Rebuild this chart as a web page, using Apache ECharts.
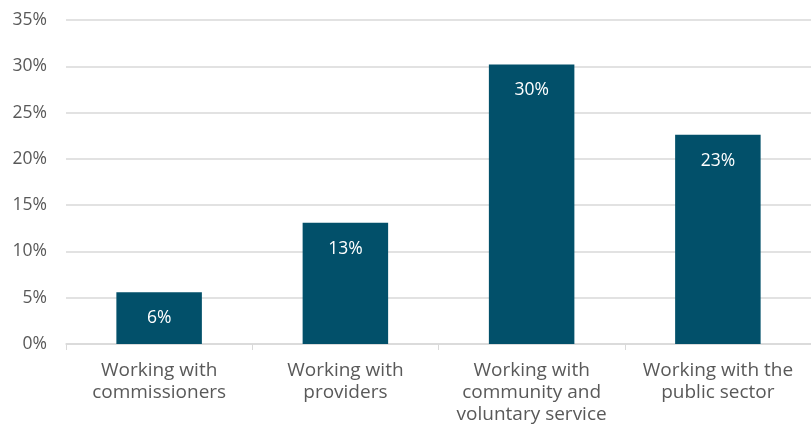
<!DOCTYPE html>
<html>
<head>
<meta charset="utf-8">
<title>Working relationships</title>
<script src="https://cdn.jsdelivr.net/npm/echarts@6/dist/echarts.min.js"></script>
<style>
  html, body { margin: 0; padding: 0; background: #ffffff; }
  #chart { width: 811px; height: 428px; }
</style>
</head>
<body>
<div id="chart"></div>
<script>
// Share of respondents (%) by type of working relationship
const categories = [
  'Working with\ncommissioners',
  'Working with\nproviders',
  'Working with\ncommunity and\nvoluntary service',
  'Working with the\npublic sector'
];
const shares = [5.6, 13.1, 30.2, 22.6];
const yTicks = { min: 0, max: 35, interval: 5 };

const FONT = '"Open Sans", "Noto Sans", sans-serif';
const chart = echarts.init(document.getElementById('chart'), null, { renderer: 'canvas' });

chart.setOption({
  animation: false,
  grid: { left: 66, right: 0, top: 20, bottom: 84 },
  xAxis: {
    type: 'category',
    data: categories,
    axisLine: { lineStyle: { color: '#d9d9d9', width: 1.5 } },
    axisTick: { show: true, length: 6, lineStyle: { color: '#d9d9d9' } },
    axisLabel: {
      color: '#595959',
      fontFamily: FONT,
      fontSize: 19,
      lineHeight: 22,
      margin: 16,
      interval: 0
    }
  },
  yAxis: {
    type: 'value',
    min: yTicks.min,
    max: yTicks.max,
    interval: yTicks.interval,
    axisLine: { show: false },
    axisTick: { show: false },
    splitLine: { lineStyle: { color: '#d9d9d9', width: 1.5 } },
    axisLabel: {
      color: '#595959',
      fontFamily: FONT,
      fontSize: 17.5,
      margin: 19,
      formatter: v => v + '%'
    }
  },
  series: [{
    type: 'bar',
    data: shares,
    barWidth: 85.5,
    itemStyle: { color: '#02506a' },
    label: {
      show: true,
      position: 'insideTop',
      distance: 17,
      color: '#ffffff',
      fontFamily: FONT,
      fontSize: 17.5,
      formatter: p => Math.round(p.value) + '%'
    }
  }]
});
</script>
</body>
</html>
